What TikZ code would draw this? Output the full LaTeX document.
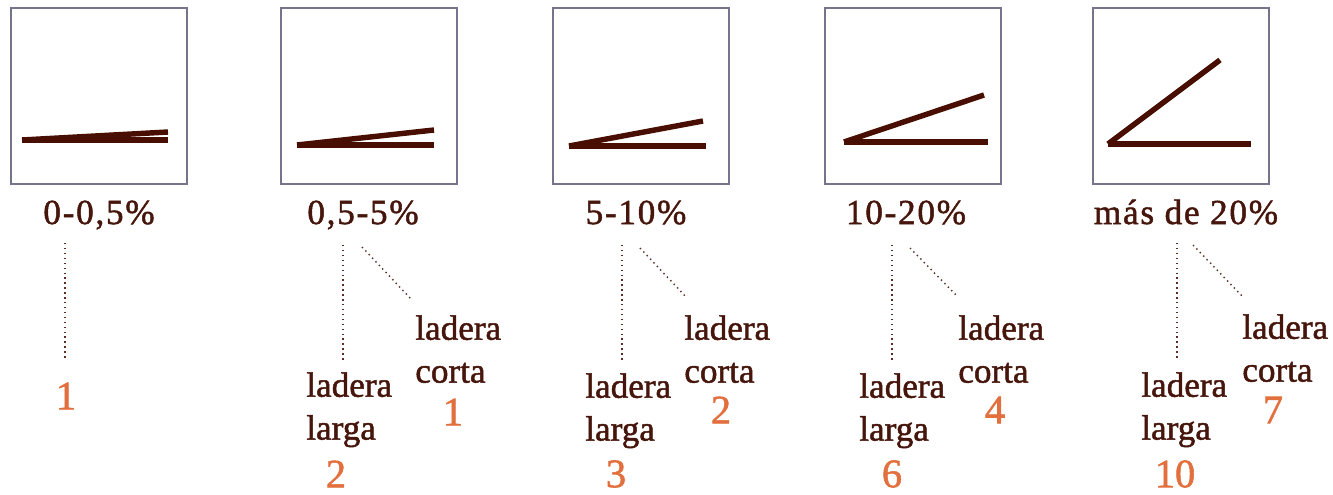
\documentclass[tikz,border=0pt]{standalone}
\usepackage{fontspec}
\setmainfont[FakeBold=1.4]{Liberation Serif}
\newfontfamily\headfont[LetterSpace=5,FakeBold=1.4]{Liberation Serif}
\usetikzlibrary{positioning,calc}
\definecolor{SlopeBrown}{RGB}{72,14,2}
\definecolor{InkBrown}{RGB}{70,22,12}
\definecolor{CountOrange}{RGB}{226,112,62}
\definecolor{FrameGray}{RGB}{118,116,138}
\tikzset{
  frame/.style={draw=FrameGray,line width=0.7pt,minimum size=3.52cm,inner sep=0pt},
  slope/.style={draw=SlopeBrown,line width=3.1pt},
  head/.style={text=InkBrown,font=\headfont\fontsize{20}{24}\selectfont,inner sep=0pt,anchor=base},
  leader/.style={draw=InkBrown!90,line width=0.8pt,dotted},
}
\tikzset{side/.style={text=InkBrown,font=\fontsize{20}{24.4}\selectfont,align=left,inner sep=0pt,anchor=north west},
  count/.style={text=CountOrange,font=\fontsize{23}{26}\selectfont,inner sep=0pt}}

\begin{document}
\begin{tikzpicture}[x=0.02cm,y=-0.02cm]
\useasboundingbox (0,0) rectangle (1333,494);
% frames with the two slope lines
\node[frame] (box1) at (99,96) {};
\node[frame] (box2) at (369,96) {};
\node[frame] (box3) at (641,96) {};
\node[frame] (box4) at (913,96) {};
\node[frame] (box5) at (1181,96) {};
\draw[slope] (22,140) -- (168,140);
\draw[slope] (22,140) -- (168,132);
\draw[slope] (297,145) -- (434,145);
\draw[slope] (297,145) -- (434,130);
\draw[slope] (569,146) -- (706,146);
\draw[slope] (569,146) -- (703,121);
\draw[slope] (844,142) -- (988,142);
\draw[slope] (844,142) -- (984,95);
\draw[slope] (1108,144) -- (1251,144);
\draw[slope] (1108,144) -- (1220,60);
% headings
\node[head] (head1) at (99,224) {0-0,5\%};
\node[head] (head2) at (363,224) {0,5-5\%};
\node[head] (head3) at (636,224) {5-10\%};
\node[head] (head4) at (906,224) {10-20\%};
\node[head] (head5) at (1186,224) {más de 20\%};
% slope sides
\node[side] (larga2) at (306,372) {ladera\\larga};
\node[side] (corta2) at (415,315) {ladera\\corta};
\node[side] (larga3) at (585,373) {ladera\\larga};
\node[side] (corta3) at (684,315) {ladera\\corta};
\node[side] (larga4) at (859,373) {ladera\\larga};
\node[side] (corta4) at (958,315) {ladera\\corta};
\node[side] (larga5) at (1141,372) {ladera\\larga};
\node[side] (corta5) at (1242,314) {ladera\\corta};
% counts
\node[count] (num1) at (66,396) {1};
\node[count] (num2) at (336,474) {2};
\node[count] (num2c) at (453,412) {1};
\node[count] (num3) at (616,474) {3};
\node[count] (num3c) at (721,410) {2};
\node[count] (num4) at (892,474) {6};
\node[count] (num4c) at (995,410) {4};
\node[count] (num5) at (1175,474) {10};
\node[count] (num5c) at (1273,410) {7};
% leaders
\coordinate (top1) at ($(head1.base)+(-34,19)$);
\coordinate (top2) at ($(head2.base)+(-20,21)$);
\coordinate (top3) at ($(head3.base)+(-14,21)$);
\coordinate (top4) at ($(head4.base)+(-14,21)$);
\coordinate (top5) at ($(head5.base)+(-9,19)$);
\draw[leader,shorten >=12.5pt] (top1) -- (top1 |- num1.north);
\draw[leader,shorten >=6.8pt] (top2) -- (top2 |- larga2.north);
\draw[leader,shorten >=6pt] (top3) -- (top3 |- larga3.north);
\draw[leader,shorten >=6.8pt] (top4) -- (top4 |- larga4.north);
\draw[leader,shorten >=6.8pt] (top5) -- (top5 |- larga5.north);
\draw[leader] ($(head2.base)+(-1,23)$) -- ($(corta2.north west)+(-4,-16)$);
\draw[leader] ($(head3.base)+(4,24)$) -- ($(corta3.north west)+(3,-17)$);
\draw[leader] ($(head4.base)+(4,24)$) -- ($(corta4.north west)+(-1,-19)$);
\draw[leader] ($(head5.base)+(7,21)$) -- ($(corta5.north west)+(0,-18)$);
\end{tikzpicture}
\end{document}
